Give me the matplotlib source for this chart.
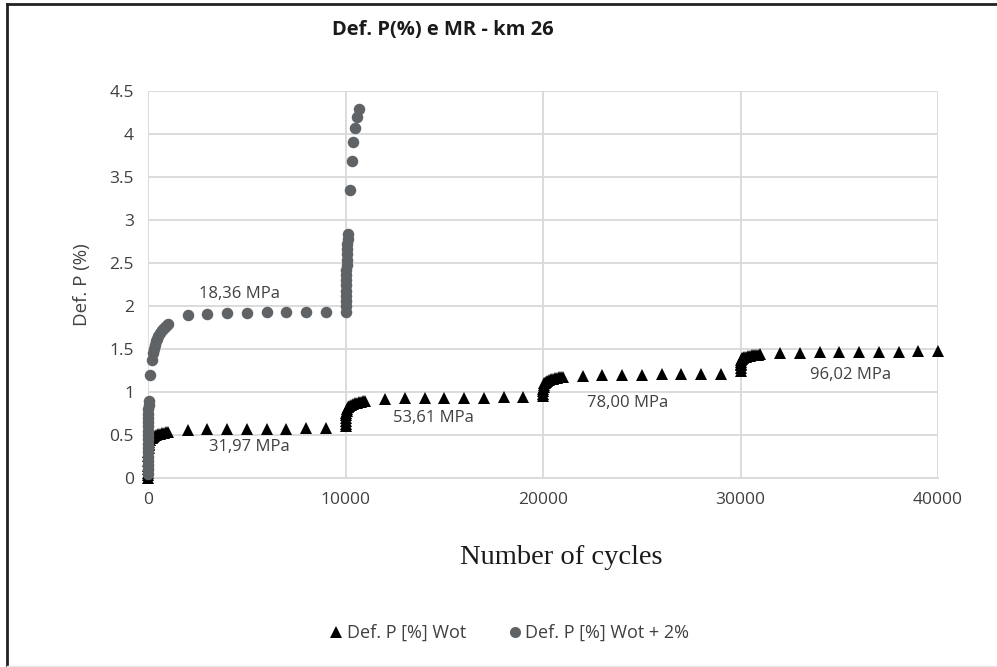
import matplotlib
matplotlib.use("Agg")
import matplotlib.pyplot as plt
from matplotlib.lines import Line2D

# ---------------- data ----------------
cycles_wot = [
    1, 2, 3, 5, 7, 10, 15, 20, 30, 40, 50, 70, 100, 150, 200, 250, 300, 400, 500, 600, 700, 800, 900, 1000,
    2000, 3000, 4000, 5000, 6000, 7000, 8000, 9000,
    10000, 10005, 10010, 10020, 10030, 10050, 10070, 10100, 10150, 10200, 10300, 10400, 10500, 10600, 10700, 10800, 10900, 11000,
    12000, 13000, 14000, 15000, 16000, 17000, 18000, 19000,
    20000, 20005, 20010, 20020, 20030, 20050, 20070, 20100, 20150, 20200, 20300, 20400, 20500, 20600, 20700, 20800, 20900, 21000,
    22000, 23000, 24000, 25000, 26000, 27000, 28000, 29000,
    30000, 30005, 30010, 30020, 30030, 30050, 30070, 30100, 30150, 30200, 30300, 30400, 30500, 30600, 30700, 30800, 30900, 31000,
    32000, 33000, 34000, 35000, 36000, 37000, 38000, 39000, 40000,
]
defp_wot = [
    0.00, 0.03, 0.06, 0.10, 0.14, 0.20, 0.26, 0.30, 0.35, 0.38, 0.40, 0.42, 0.44, 0.46, 0.47, 0.48, 0.49, 0.50, 0.51, 0.515, 0.52, 0.525, 0.53, 0.535,
    0.56, 0.565, 0.57, 0.57, 0.575, 0.575, 0.58, 0.58,
    0.60, 0.63, 0.66, 0.70, 0.73, 0.76, 0.78, 0.80, 0.82, 0.835, 0.85, 0.86, 0.87, 0.875, 0.88, 0.885, 0.89, 0.895,
    0.92, 0.925, 0.93, 0.93, 0.935, 0.935, 0.94, 0.94,
    0.95, 0.98, 1.01, 1.04, 1.06, 1.08, 1.10, 1.11, 1.12, 1.13, 1.14, 1.15, 1.155, 1.16, 1.165, 1.17, 1.175, 1.18,
    1.19, 1.195, 1.20, 1.20, 1.205, 1.205, 1.21, 1.21,
    1.25, 1.28, 1.31, 1.33, 1.35, 1.37, 1.38, 1.39, 1.40, 1.405, 1.41, 1.415, 1.42, 1.425, 1.43, 1.43, 1.435, 1.44,
    1.45, 1.455, 1.46, 1.46, 1.465, 1.47, 1.47, 1.475, 1.48,
]

cycles_wot2 = [
    1, 2, 3, 4, 5, 6, 7, 8, 9, 10, 12, 14, 16, 18, 20, 25, 30, 40,
    100, 200, 250, 300, 350, 400, 450, 500, 600, 700, 800, 900, 1000,
    2000, 3000, 4000, 5000, 6000, 7000, 8000, 9000,
    10000, 10005, 10010, 10015, 10020, 10025, 10030, 10040, 10050, 10060, 10070, 10080, 10090, 10100, 10110, 10120,
    10230, 10330, 10400, 10480, 10580, 10680,
]
defp_wot2 = [
    0.05, 0.10, 0.15, 0.20, 0.25, 0.30, 0.35, 0.40, 0.45, 0.50, 0.55, 0.60, 0.65, 0.70, 0.75, 0.80, 0.85, 0.90,
    1.20, 1.37, 1.45, 1.50, 1.55, 1.59, 1.62, 1.65, 1.69, 1.72, 1.75, 1.77, 1.79,
    1.89, 1.91, 1.92, 1.92, 1.93, 1.93, 1.93, 1.93,
    1.93, 2.00, 2.06, 2.12, 2.18, 2.24, 2.30, 2.36, 2.42, 2.48, 2.54, 2.60, 2.66, 2.72, 2.78, 2.84,
    3.35, 3.69, 3.91, 4.07, 4.20, 4.29,
]

series_labels = ["Def. P [%] Wot", "Def. P [%] Wot + 2%"]
mr_labels = ["18,36 MPa", "31,97 MPa", "53,61 MPa", "78,00 MPa", "96,02 MPa"]
mr_x = [4650, 5150, 14450, 24300, 35550]
mr_y = [2.14, 0.36, 0.70, 0.87, 1.20]

x_ticks = [0, 10000, 20000, 30000, 40000]
y_ticks = [0, 0.5, 1, 1.5, 2, 2.5, 3, 3.5, 4, 4.5]
y_tick_labels = ["0", "0.5", "1", "1.5", "2", "2.5", "3", "3.5", "4", "4.5"]

# ---------------- figure ----------------
FONT = "Open Sans"
TXT = "#404040"
GRID = "#d9d9d9"
GRAY = "#5f6366"

fig = plt.figure(figsize=(9.97, 6.67), dpi=100)
W, H = 997, 667
ax = fig.add_axes([148 / W, 1 - 478 / H, (938 - 148) / W, (478 - 91) / H])

ax.plot(cycles_wot, defp_wot, linestyle="none", marker="^", color="black",
        markersize=8.3, markeredgewidth=0, clip_on=False, zorder=3)
ax.plot(cycles_wot2, defp_wot2, linestyle="none", marker="o", color=GRAY,
        markersize=8.3, markeredgewidth=0, clip_on=False, zorder=4)

ax.set_xlim(0, 40000)
ax.set_ylim(0, 4.5)
ax.set_xticks(x_ticks)
ax.set_xticklabels([str(t) for t in x_ticks])
ax.set_yticks(y_ticks)
ax.set_yticklabels(y_tick_labels)
ax.tick_params(length=0, labelsize=12.5, labelcolor=TXT, pad=10)
for lab in ax.get_xticklabels() + ax.get_yticklabels():
    lab.set_fontfamily(FONT)
ax.grid(True, color=GRID, linewidth=1.3)
ax.set_axisbelow(True)
for s in ["top", "right", "left"]:
    ax.spines[s].set_visible(False)
ax.spines["bottom"].set_color(GRID)
ax.spines["bottom"].set_linewidth(1.3)

for lab, xx, yy in zip(mr_labels, mr_x, mr_y):
    ax.text(xx, yy, lab, ha="center", va="center", fontsize=12,
            color=TXT, family=FONT, zorder=5)

# axis labels
fig.text(561 / W, 1 - 557 / H, "Number of cycles", ha="center", va="center",
         fontsize=20.5, family="Liberation Serif", color="#1a1a1a")
fig.text(82 / W, 1 - 285 / H, "Def. P (%)", ha="center", va="center",
         rotation=90, fontsize=13.5, family=FONT, color=TXT)

# title
fig.text(443 / W, 1 - 30 / H, "Def. P(%) e MR - km 26", ha="center", va="center",
         fontsize=14.5, fontweight="bold", family=FONT, color="#1a1a1a")

# legend
handles = [
    Line2D([], [], linestyle="none", marker="^", color="black", markersize=8, markeredgewidth=0),
    Line2D([], [], linestyle="none", marker="o", color=GRAY, markersize=8, markeredgewidth=0),
]
fig.legend(handles, series_labels, loc="center", bbox_to_anchor=(508 / W, 1 - 633 / H),
           ncol=2, frameon=False, prop={"family": FONT, "size": 13},
           labelcolor=TXT, handletextpad=0.1, columnspacing=2.2, handlelength=1.0)

# outer frame (left & top dark, bottom light)
fig.add_artist(Line2D([7 / W, 7 / W], [0, 1 - 4 / H], color="#222222", linewidth=2,
                      transform=fig.transFigure))
fig.add_artist(Line2D([7 / W, 1], [1 - 4 / H, 1 - 4 / H], color="#222222", linewidth=2,
                      transform=fig.transFigure))
fig.add_artist(Line2D([7 / W, 1], [1 - 666 / H, 1 - 666 / H], color="#e6e6e6", linewidth=1,
                      transform=fig.transFigure))

fig.savefig("out.png", dpi=100)
